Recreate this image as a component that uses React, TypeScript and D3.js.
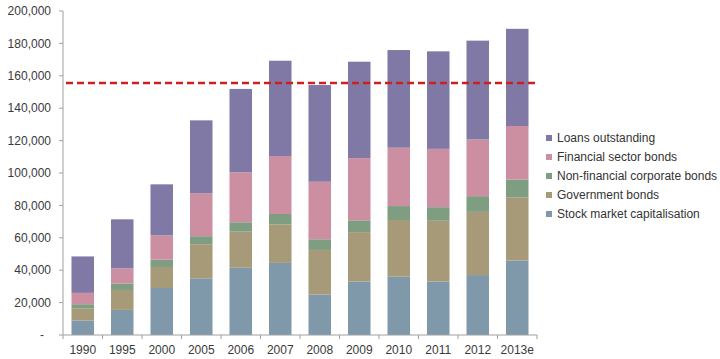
import React from "react";
import * as d3 from "d3";

const categories = ["1990","1995","2000","2005","2006","2007","2008","2009","2010","2011","2012","2013e"];
const seriesNames = ["Stock market capitalisation","Government bonds","Non-financial corporate bonds","Financial sector bonds","Loans outstanding"];
const stockMarket = [9000,15500,29000,35000,41500,44500,25000,33000,36000,33000,37000,46000];
const governmentBonds = [7500,12300,13000,21000,22300,23800,27500,30500,35000,37500,39000,39000];
const nonFinancialBonds = [2500,4000,4500,5000,5800,6400,6600,7300,8600,8400,9700,11000];
const financialBonds = [7000,9300,15000,26500,30800,35800,35500,38400,36000,36000,35000,33000];
const loans = [22500,30300,31500,45000,51500,58800,59700,59500,60300,60200,61000,60000];
const colors = ["#7f99ab","#a69a78","#7f9d80","#cc8fa1","#8079a6"];
const yTicks = [0,20000,40000,60000,80000,100000,120000,140000,160000,180000,200000];
const thresholdValue = 155500;

export default function App() {
  const W = 720, H = 359;
  const x0 = 63, x1 = 537, yTop = 11, yBase = 335;
  const x = d3.scaleBand().domain(categories).range([x0, x1]).paddingInner(0.43).paddingOuter(0.215);
  const y = d3.scaleLinear().domain([0, 200000]).range([yBase, yTop]);
  const allSeries = [stockMarket, governmentBonds, nonFinancialBonds, financialBonds, loans];
  const table = categories.map((c, i) => {
    const o: any = { cat: c };
    seriesNames.forEach((s, k) => (o[s] = allSeries[k][i]));
    return o;
  });
  const stacked = d3.stack().keys(seriesNames)(table as any);
  const fmt = d3.format(",");
  const step = (x1 - x0) / categories.length;
  const legendOrder = [4, 3, 2, 1, 0];
  return (
    <svg width={W} height={H} style={{ position: "absolute", left: 0, top: 0, fontFamily: "Liberation Sans, Arial, sans-serif" }}>
      <rect width={W} height={H} fill="#fff" />
      {stacked.map((layer, k) => (
        <g key={k} fill={colors[k]}>
          {layer.map((d, i) => (
            <rect key={i} x={x(categories[i])} y={y(d[1])} width={x.bandwidth()} height={y(d[0]) - y(d[1])} />
          ))}
        </g>
      ))}
      {/* y axis */}
      <line x1={x0} x2={x0} y1={yTop} y2={yBase} stroke="#a0a0a0" />
      {yTicks.map((t) => (
        <g key={t}>
          <line x1={x0 - 4} x2={x0} y1={y(t)} y2={y(t)} stroke="#a0a0a0" />
          <text x={t === 0 ? 42 : 51} y={y(t)} dy="0.35em" textAnchor={t === 0 ? "middle" : "end"} fontSize={12} fill="#3a3a3a">
            {t === 0 ? "-" : fmt(t)}
          </text>
        </g>
      ))}
      {/* x axis */}
      <line x1={x0} x2={x1} y1={yBase} y2={yBase} stroke="#a0a0a0" />
      {d3.range(categories.length + 1).map((i) => (
        <line key={i} x1={x0 + i * step} x2={x0 + i * step} y1={yBase} y2={yBase + 4} stroke="#a0a0a0" />
      ))}
      {categories.map((c) => (
        <text key={c} x={(x(c) as number) + x.bandwidth() / 2} y={354} textAnchor="middle" fontSize={12} fill="#3a3a3a">
          {c}
        </text>
      ))}
      {/* threshold */}
      <line x1={x0 + 3} x2={x1} y1={y(thresholdValue)} y2={y(thresholdValue)} stroke="#cc2020" strokeWidth={2.5} strokeDasharray="7,4" />
      {/* legend */}
      {legendOrder.map((k, j) => (
        <g key={k} transform={`translate(546,${138 + j * 19})`}>
          <rect x={0} y={-3} width={6} height={6} fill={colors[k]} />
          <text x={11} y={0} dy="0.35em" fontSize={12} fill="#333">
            {seriesNames[k]}
          </text>
        </g>
      ))}
    </svg>
  );
}
